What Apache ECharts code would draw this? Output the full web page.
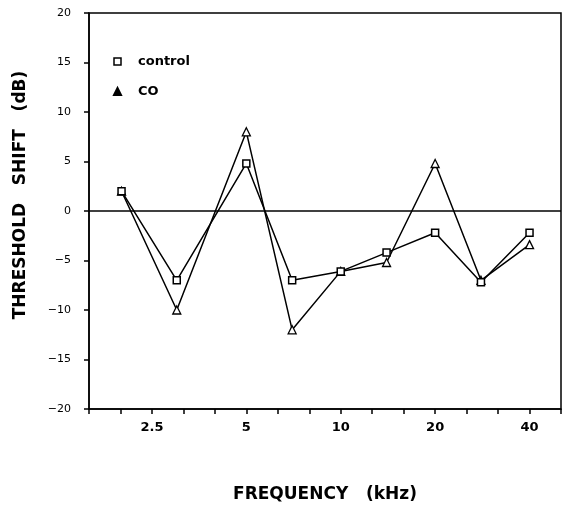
<!DOCTYPE html>
<html>
<head>
<meta charset="utf-8">
<script src="https://cdn.jsdelivr.net/npm/echarts@6/dist/echarts.min.js"></script>
<style>
  html, body { margin: 0; padding: 0; background: #fff; }
  #chart { width: 565px; height: 508px; }
</style>
</head>
<body>
<div id="chart"></div>
<script>
// frequencies in kHz (third-octave axis)
const freqs = [2, 3, 5, 7, 10, 14, 20, 28, 40];
const control = [2, -7, 4.8, -7, -6.1, -4.2, -2.2, -7.2, -2.2];
const co = [2, -10, 8, -12, -6.1, -5.2, 4.8, -7, -3.4];
const xTickLabels = ['2.5', '5', '10', '20', '40'];
const yTicks = [-20, -15, -10, -5, 0, 5, 10, 15, 20];

// position on axis in third-octaves relative to 2.5 kHz
const toThird = f => 3 * Math.log2(f / 2.5);
const pairs = vals => freqs.map((f, i) => [toThird(f), vals[i]]);

const chart = echarts.init(document.getElementById('chart'));
const font = 'DejaVu Sans';

const option = {
  animation: false,
  grid: {
    left: 89, right: 4, top: 13, bottom: 95,
    show: true,
    borderColor: '#000',
    borderWidth: 1.5
  },
  legend: {
    orient: 'vertical',
    left: 108,
    top: 50,
    itemGap: 17,
    itemWidth: 7,
    itemHeight: 7,
    textStyle: { fontFamily: font, fontWeight: 'bold', fontSize: 13, color: '#000', padding: [0, 0, 0, 12] },
    data: [
      { name: 'control', icon: 'rect', itemStyle: { color: '#fff', borderColor: '#000', borderWidth: 1.5 } },
      { name: 'CO', icon: 'triangle', itemStyle: { color: '#000', borderColor: '#000' } }
    ]
  },
  xAxis: {
    type: 'value',
    min: -2,
    max: 13,
    interval: 1,
    name: 'FREQUENCY   (kHz)',
    nameLocation: 'middle',
    nameGap: 77,
    nameTextStyle: { fontFamily: font, fontWeight: 'bold', fontSize: 17, color: '#000' },
    axisLine: { onZero: false, lineStyle: { color: '#000', width: 1.5 } },
    axisTick: { show: true, length: 5, lineStyle: { color: '#000', width: 1.5 } },
    axisLabel: {
      margin: 12,
      fontFamily: font, fontWeight: 'bold', fontSize: 13, color: '#000',
      formatter: v => (v % 3 === 0 && v >= 0 && v <= 12) ? xTickLabels[v / 3] : ''
    },
    splitLine: { show: false }
  },
  yAxis: {
    type: 'value',
    min: yTicks[0],
    max: yTicks[yTicks.length - 1],
    interval: 5,
    name: 'THRESHOLD   SHIFT   (dB)',
    nameLocation: 'middle',
    nameGap: 60,
    nameTextStyle: { fontFamily: font, fontWeight: 'bold', fontSize: 17, color: '#000', padding: [0, 0, 0, 32] },
    axisLine: { onZero: false, lineStyle: { color: '#000', width: 1.5 } },
    axisTick: { show: true, length: 5, lineStyle: { color: '#000', width: 1.5 } },
    axisLabel: {
      margin: 18,
      fontFamily: font, fontSize: 11, color: '#000',
      formatter: v => String(v).replace('-', '\u2212')
    },
    splitLine: { show: false }
  },
  series: [
    {
      name: 'CO',
      type: 'line',
      data: pairs(co),
      symbol: 'triangle',
      symbolSize: 8,
      lineStyle: { color: '#000', width: 1.5 },
      itemStyle: { color: '#fff', borderColor: '#000', borderWidth: 1.3 },
      markLine: {
        silent: true,
        symbol: 'none',
        label: { show: false },
        lineStyle: { color: '#000', width: 1.5, type: 'solid' },
        data: [{ yAxis: 0 }]
      }
    },
    {
      name: 'control',
      type: 'line',
      data: pairs(control),
      symbol: 'rect',
      symbolSize: 7,
      lineStyle: { color: '#000', width: 1.5 },
      itemStyle: { color: '#fff', borderColor: '#000', borderWidth: 1.5 }
    }
  ]
};

chart.setOption(option);
window.addEventListener('resize', () => chart.resize());
</script>
</body>
</html>
